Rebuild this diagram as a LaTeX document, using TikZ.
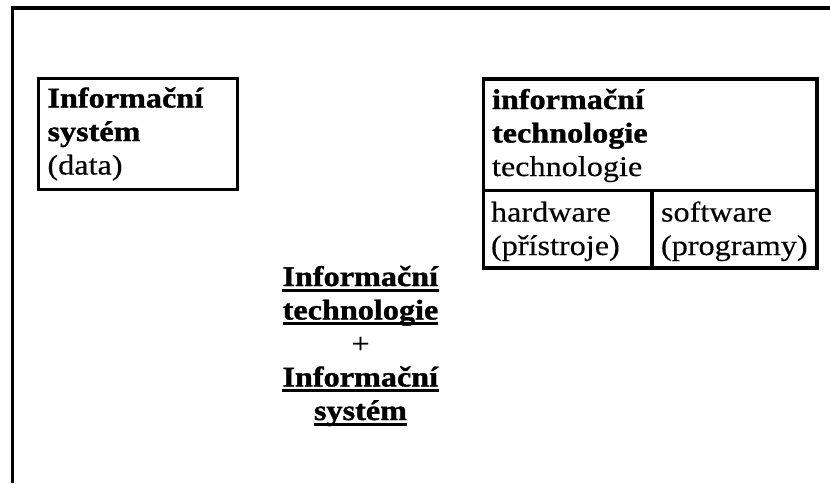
\documentclass[tikz,border=0pt]{standalone}
\usepackage{fontspec}
\setmainfont[FakeStretch=1.13,FakeBold=0.3,BoldFeatures={FakeBold=1.2}]{Liberation Serif}
\newcommand\myul[1]{\setbox0\hbox{#1}\rlap{\rule[-5.5pt]{\wd0}{2.7pt}}\box0}
\begin{document}
\begin{tikzpicture}[x=1pt,y=-1pt,
  frameline/.style={line width=3.1pt},
  boxline/.style={line width=3.1pt},
  txt/.style={inner sep=0pt,outer sep=0pt,font=\fontsize{28.5}{33.5}\selectfont},
  lt/.style={txt,anchor=base west},
  ct/.style={txt,anchor=base}]
\useasboundingbox (0,0) rectangle (830,483);
% frame
\draw[frameline] (12.5,483) -- (12.5,8) -- (832,8);
% left box
\draw[boxline] (38.5,78.5) rectangle (237.5,189.5);
\node[lt] (is1) at (47.5,107.5) {\textbf{Informační}};
\node[lt] (is2) at (47.5,141) {\textbf{systém}};
\node[lt] (is3) at (47.5,174.5) {(data)};
% right box
\draw[boxline] (483.5,79) rectangle (817,268);
\draw[boxline] (483.5,190.5) -- (817,190.5);
\draw[boxline] (652,190.5) -- (652,268);
\node[lt] (it1) at (492,109) {\textbf{informační}};
\node[lt] (it2) at (492,142.5) {\textbf{technologie}};
\node[lt] (it3) at (492,176) {technologie};
\node[lt] (hw1) at (491,221.5) {hardware};
\node[lt] (hw2) at (491,255) {(přístroje)};
\node[lt] (sw1) at (661,221.5) {software};
\node[lt] (sw2) at (661,255) {(programy)};
% centre
\node[ct] (c1) at (360.5,286) {\myul{\textbf{Informační}}};
\node[ct] (c2) at (360.5,319.5) {\myul{\textbf{technologie}}};
\node[ct] (c3) at (360.5,353) {+};
\node[ct] (c4) at (360.5,386.5) {\myul{\textbf{Informační}}};
\node[ct] (c5) at (360.5,420) {\myul{\textbf{systém}}};
\end{tikzpicture}
\end{document}
